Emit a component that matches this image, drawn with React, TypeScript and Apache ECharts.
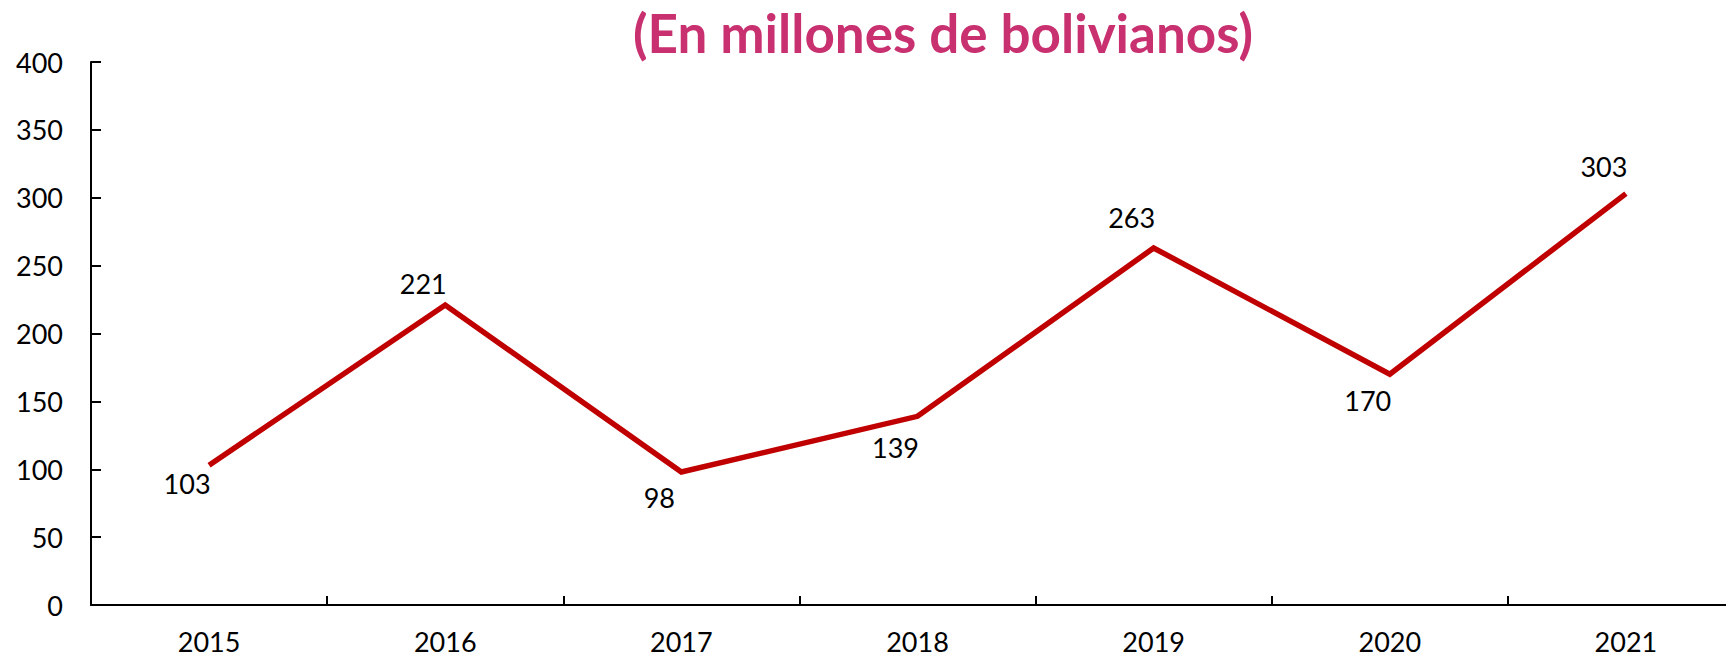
import React, { useEffect, useRef } from "react";
import * as echarts from "echarts";

const years = ["2015", "2016", "2017", "2018", "2019", "2020", "2021"];
const values = [103, 221, 98, 139, 263, 170, 303];
const titleText = "(En millones de bolivianos)";

// label placement style (not data)
const labelPlacement = [
  { position: "bottom", distance: 4 },
  { position: "top", distance: 7 },
  { position: "bottom", distance: 12 },
  { position: "bottom", distance: 17 },
  { position: "top", distance: 16 },
  { position: "bottom", distance: 12 },
  { position: "top", distance: 13 },
];

export default function App() {
  const ref = useRef<HTMLDivElement>(null);
  useEffect(() => {
    if (!ref.current) return;
    const chart = echarts.init(ref.current, null, { renderer: "svg" });
    const font = "Lato, 'Open Sans', sans-serif";
    chart.setOption({
      animation: false,
      backgroundColor: "#ffffff",
      textStyle: { fontFamily: font },
      graphic: [
        {
          type: "text",
          x: 943,
          y: 32,
          style: {
            text: titleText,
            fill: "#C8306F",
            font: `bold 53px ${font}`,
            textAlign: "center",
            textVerticalAlign: "middle",
          },
        },
      ],
      grid: { left: 91, top: 62, bottom: 53, width: 1653, containLabel: false },
      xAxis: {
        type: "category",
        data: years,
        boundaryGap: true,
        axisLine: { lineStyle: { color: "#000", width: 2 } },
        axisTick: {
          show: true,
          inside: true,
          alignWithLabel: false,
          interval: 0,
          length: 9,
          lineStyle: { color: "#000", width: 2 },
        },
        axisLabel: { color: "#000", fontSize: 27, margin: 23, fontFamily: font },
        splitLine: { show: false },
      },
      yAxis: {
        type: "value",
        min: 0,
        max: 400,
        interval: 50,
        axisLine: { show: true, lineStyle: { color: "#000", width: 2 } },
        axisTick: { show: true, inside: true, length: 10, lineStyle: { color: "#000", width: 2 } },
        axisLabel: { color: "#000", fontSize: 27, margin: 28, fontFamily: font },
        splitLine: { show: false },
      },
      series: [
        {
          type: "line",
          data: values.map((v, i) => ({
            value: v,
            label: {
              show: true,
              position: labelPlacement[i].position,
              distance: labelPlacement[i].distance,
              offset: [-22, 0],
            },
          })),
          showSymbol: true,
          symbol: "circle",
          symbolSize: 1,
          lineStyle: { color: "#C00000", width: 5.5, cap: "butt", join: "miter" },
          itemStyle: { color: "rgba(0,0,0,0)", borderWidth: 0 },
          label: { show: true, color: "#000", fontSize: 27, fontFamily: font },
        },
      ],
    });
    return () => chart.dispose();
  }, []);
  return (
    <div
      style={{
        position: "fixed",
        left: 0,
        top: 0,
        width: 1726,
        height: 658,
        overflow: "hidden",
        background: "#fff",
      }}
    >
      <div ref={ref} style={{ width: 1760, height: 658 }} />
    </div>
  );
}
